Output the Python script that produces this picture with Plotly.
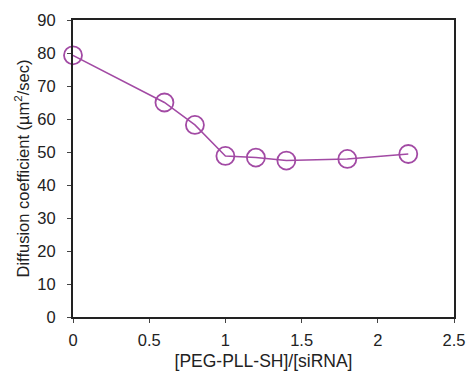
import plotly.graph_objects as go

ratio = [0, 0.6, 0.8, 1.0, 1.2, 1.4, 1.8, 2.2]
diffusion = [79.3, 65.0, 58.2, 48.8, 48.3, 47.4, 47.9, 49.4]

color = "#a24aa4"

fig = go.Figure()
fig.add_trace(go.Scatter(
    x=ratio, y=diffusion, mode="lines+markers",
    line=dict(color=color, width=1.5),
    marker=dict(symbol="circle-open", size=18, color=color, line=dict(width=1.8, color=color)),
    cliponaxis=False,
))

font = dict(family="Liberation Sans, Arial, sans-serif", size=16.5, color="#222")
fig.update_layout(
    width=469, height=372,
    margin=dict(l=73, r=15, t=20, b=55, autoexpand=False),
    paper_bgcolor="white", plot_bgcolor="white",
    showlegend=False,
    font=font,
)
fig.update_xaxes(
    range=[0, 2.5], tickvals=[0, 0.5, 1, 1.5, 2, 2.5], ticktext=["0", "0.5", "1", "1.5", "2", "2.5"],
    showline=True, linecolor="#222", linewidth=2, mirror=True, automargin=False,
    ticks="outside", ticklen=4, tickcolor="#444", showgrid=False, zeroline=False,
    ticklabelstandoff=3,
    title=dict(text="[PEG-PLL-SH]/[siRNA]", font=dict(size=17.5), standoff=7),
)
fig.update_yaxes(
    range=[0, 90], tickvals=list(range(0, 91, 10)),
    showline=True, linecolor="#222", linewidth=2, mirror=True, automargin=False,
    ticks="outside", ticklen=4, tickcolor="#444", showgrid=False, zeroline=False,
    ticklabelstandoff=8,
    title=dict(text="Diffusion coefficient (µm<sup>2</sup>/sec)", font=dict(size=16.5), standoff=4),
)
fig.write_html("out.html", config={"displayModeBar": False},
               post_script="document.body.style.margin='0';document.body.style.overflow='hidden';")
